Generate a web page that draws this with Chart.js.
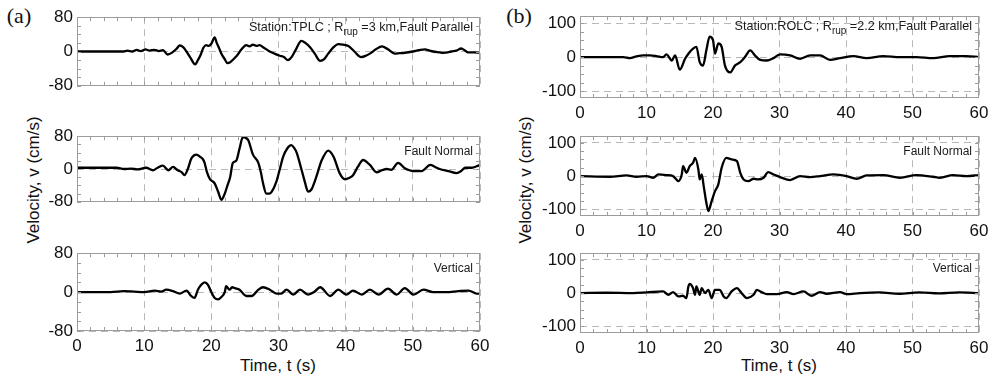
<!DOCTYPE html>
<html><head><meta charset="utf-8">
<script src="https://cdn.jsdelivr.net/npm/chart.js@4.4.0/dist/chart.umd.min.js"></script>
<style>
html,body{margin:0;padding:0;background:#fff;}
body{width:1000px;height:381px;overflow:hidden;position:relative;font-family:"Liberation Sans",Arial,sans-serif;color:#111;}
canvas{position:absolute;}
.lbl{position:absolute;white-space:nowrap;line-height:1;}
.panel{font-family:"Liberation Serif","Times New Roman",serif;font-size:22px;}
.ax{font-size:17px;}
.rot{transform:translate(-50%,-50%) rotate(-90deg);}
.ctr{transform:translate(-50%,-50%);}
</style></head><body>
<div class="lbl panel ctr" style="left:19px;top:16px;">(a)</div>
<div class="lbl panel ctr" style="left:519px;top:16px;">(b)</div>
<div class="lbl ax rot" style="left:33px;top:180px;">Velocity, v (cm/s)</div>
<div class="lbl ax rot" style="left:525px;top:180px;">Velocity, v (cm/s)</div>
<div class="lbl ax ctr" style="left:278px;top:365px;">Time, t (s)</div>
<div class="lbl ax ctr" style="left:779px;top:365px;">Time, t (s)</div>
<script>
// ---------- axis ticks ----------
const xTicks = [0, 10, 20, 30, 40, 50, 60];
const xMinorStep = 2;
const yRangeA = [-80, 80];
const yGridA = [-80, -40, 0, 40, 80];
const yLabelsA = [-80, 0, 80];
const yMinorA = 20;
const yRangeB = [-120, 120];
const yGridB = [-100, -50, 0, 50, 100];
const yLabelsB = [-100, 0, 100];
const yMinorB = 25;

// ---------- (a) Station TPLC ----------
const tA_FP = [0,6.9,7.5,8.2,8.9,9.5,10.2,10.8,11.5,12.2,12.8,13.5,14.2,14.8,15.3,15.8,16.3,16.9,17.6,18.0,18.4,18.8,19.2,19.6,20.0,20.5,20.8,21.1,21.5,22.0,22.4,22.8,23.3,23.8,24.5,25.2,25.7,26.2,26.7,27.2,27.7,28.2,28.7,29.4,30.2,30.8,31.4,32.0,32.6,33.4,34.0,34.7,35.4,36.2,36.8,37.4,38.2,38.9,39.6,40.4,41.3,42.3,43.0,43.6,44.5,45.4,46.3,47.3,48.0,48.8,50.0,50.9,51.8,52.5,53.0,54.0,54.5,55.2,55.7,56.5,57.2,57.8,58.2,59.0,60];
const vA_FP = [0,0,2,0,4,1,5,2,4,1,3,-7,-2,6,14,10,0,-15,-30,-20,-8,8,15,13,18,33,20,10,-5,-18,-27,-25,-18,-10,5,15,12,16,13,15,10,5,0,-5,-10,-13,-20,-12,5,25,20,10,-5,-22,-18,-5,10,17,16,13,0,-13,-10,-5,5,12,5,-5,-4,-3,0,3,5,2,0,-2,-3,-2,0,2,7,2,-2,-2,-3];

const tA_FN = [0,5.9,7,8,9,10.3,11.3,12.0,12.8,13.6,14.3,15.0,15.6,16.0,16.5,17.0,17.4,17.8,18.3,18.7,19.0,19.3,19.8,20.2,20.5,21.0,21.5,22.0,22.4,22.8,23.2,23.7,24.2,24.7,25.1,25.5,26.2,27.0,27.4,27.7,28.2,28.6,29.0,29.7,30.2,30.7,31.3,31.9,32.3,32.7,33.4,33.9,34.4,34.9,35.4,35.9,36.4,37.4,38.2,39.1,39.9,40.5,41.1,41.8,42.6,43.6,44.6,45.4,46.1,46.8,47.8,48.8,49.5,50.1,51.3,52.6,53.3,54.0,55.3,56.5,57.2,57.8,58.8,60];
const vA_FN = [3,3,0,1,-1,3,-3,3,8,-3,5,-3,-8,-15,0,25,33,35,30,25,15,-5,-25,-30,-35,-55,-75,-60,-40,-20,15,20,50,78,76,70,35,15,-10,-35,-60,-60,-55,-30,0,30,50,58,52,40,0,-30,-55,-50,-30,-5,20,45,30,-10,-25,-22,-15,5,22,10,-8,-3,0,-2,15,2,-3,-5,-5,10,5,0,-5,-10,-5,3,3,10];

const tA_V = [0,5,7,8.5,10,11.6,12.5,13.3,14.3,15.3,16.3,17.0,17.5,18.0,18.5,19.0,19.5,20.0,20.5,21.0,21.5,22.0,22.2,22.7,23.1,23.5,24.2,25.2,26.0,27.0,27.7,28.7,29.7,30.4,31.2,32.2,33.2,34.4,35.3,36.2,37.7,38.9,40.1,41.1,42.4,43.6,44.9,46.3,47.6,48.8,50.1,51.6,53,55,56.8,58.3,59.5,60];
const vA_V = [0,0,2,1,0,3,1,5,2,-3,3,-8,-12,5,15,20,15,0,-12,-15,-10,0,12,5,10,8,5,-8,-8,5,10,5,-3,-3,5,-5,5,-5,0,10,-8,5,-5,3,-5,5,-5,7,-5,8,-5,5,0,0,2,3,-3,-3];

// ---------- (b) Station ROLC ----------
const tB_FP = [0,6.5,7.5,8.5,9.5,10.5,11.5,12.5,13.0,13.8,14.3,15.0,15.8,16.3,17.0,17.5,18.0,18.5,19.0,19.5,20.0,20.3,20.8,21.3,21.8,22.6,23.3,24.1,24.8,25.6,26.3,27.1,28.1,29.1,30.1,31.6,33.1,34.6,36.1,37.6,39.1,41.1,43.1,45.6,48.1,50.6,53.1,55.6,58.1,60];
const vB_FP = [0,0,-3,2,5,5,3,0,8,-10,5,-37,-5,10,25,30,-15,-25,20,60,50,10,40,30,-25,-45,-25,-15,0,20,5,-8,-10,-3,8,5,-5,5,5,-8,-3,3,-3,3,0,0,-3,3,3,0];

const tB_FN = [0,4.5,7,8.5,10,11,11.8,13,14,14.8,15.3,15.5,16.0,16.5,17.0,17.3,17.8,18.0,18.3,18.6,19.0,19.3,19.8,20.3,20.8,21.3,22.0,22.8,23.6,24.1,24.6,25.3,26.1,26.8,27.6,28.3,29.1,30.1,31.6,33.1,34.6,36.1,38.1,40.1,41.6,43.1,45.6,48.1,50.6,53.1,54.1,56.1,58.1,60];
const vB_FN = [0,-2,2,-2,0,-5,5,3,0,-15,5,30,10,30,40,55,20,-10,5,-30,-80,-105,-75,-45,-25,25,55,50,45,10,-10,-15,-8,-10,-5,12,5,-3,-12,0,-3,0,5,0,-8,2,3,-5,3,-2,-5,3,0,3];

const tB_V = [0,4,8,10,12.5,13.3,14,14.8,15.5,16.0,16.3,16.5,17.0,17.3,17.5,18.0,18.3,18.8,19.3,19.8,20.3,21.0,21.6,22.0,22.8,23.6,24.3,25.1,26.1,26.6,27.3,28.1,29.6,31.1,32.1,33.6,34.8,36.1,37.1,39.1,40.1,42.1,45,48,51,54,57,60];
const vB_V = [0,1,0,2,5,-5,3,-10,-8,-15,20,28,15,-5,20,-5,15,0,10,-15,10,10,-10,-15,5,15,0,-15,-5,10,3,-3,-3,3,-3,5,-8,3,-2,3,-3,0,2,-2,2,-1,2,0];

// ---------- annotations ----------
const notesA = [["Station:TPLC ; R", "rup", " =3 km,Fault Parallel"], ["Fault Normal"], ["Vertical"]];
const notesB = [["Station:ROLC ; R", "rup", " =2.2 km,Fault Parallel"], ["Fault Normal"], ["Vertical"]];

// ---------- drawing ----------
const FONT = '"Liberation Sans", Arial, sans-serif';
const YW = 55, PT = 12, PR = 16;

const framePlugin = {
  id: 'frame',
  afterDatasetsDraw(chart, args, o) {
    const {ctx, chartArea: a} = chart;
    const x = chart.scales.x, y = chart.scales.y;
    ctx.save();
    ctx.strokeStyle = '#9c9c9c';
    ctx.lineWidth = 1;
    ctx.beginPath();
    for (let t = x.min + o.xMinor; t < x.max; t += o.xMinor) {
      const px = Math.round(x.getPixelForValue(t)) + 0.5;
      ctx.moveTo(px, a.top); ctx.lineTo(px, a.top + 4);
      ctx.moveTo(px, a.bottom); ctx.lineTo(px, a.bottom - 4);
    }
    for (let v = Math.ceil(y.min / o.yMinor) * o.yMinor; v <= y.max; v += o.yMinor) {
      const py = Math.round(y.getPixelForValue(v)) + 0.5;
      ctx.moveTo(a.left, py); ctx.lineTo(a.left + 4, py);
      ctx.moveTo(a.right, py); ctx.lineTo(a.right - 4, py);
    }
    ctx.stroke();
    ctx.strokeRect(Math.round(a.left) + 0.5, Math.round(a.top) + 0.5, Math.round(a.right - a.left) - 1, Math.round(a.bottom - a.top) - 1);
    // annotation text, right aligned
    const parts = o.note;
    ctx.fillStyle = '#1a1a1a';
    ctx.textBaseline = 'middle';
    ctx.textAlign = 'left';
    const big = '12.6px ' + FONT, small = '10px ' + FONT;
    const yMid = a.top + (parts.length > 1 ? 10 : 15);
    ctx.font = big;
    const w0 = ctx.measureText(parts[0]).width;
    let w1 = 0, w2 = 0;
    if (parts.length > 1) {
      ctx.font = small; w1 = ctx.measureText(parts[1]).width;
      ctx.font = big; w2 = ctx.measureText(parts[2]).width;
    } else {
      ctx.font = '12px ' + FONT;
    }
    const w = parts.length > 1 ? w0 + w1 + w2 : ctx.measureText(parts[0]).width;
    let xx = a.right - 7 - w;
    if (parts.length > 1) {
      ctx.font = big; ctx.fillText(parts[0], xx, yMid); xx += w0;
      ctx.font = small; ctx.fillText(parts[1], xx, yMid + 5); xx += w1;
      ctx.font = big; ctx.fillText(parts[2], xx, yMid);
    } else {
      ctx.fillText(parts[0], xx, yMid);
    }
    ctx.restore();
  }
};

function makePlot(p) {
  const XH = p.showX ? 28 : 2;
  const cv = document.createElement('canvas');
  cv.width = YW + p.w + PR;
  cv.height = PT + p.h + XH;
  cv.style.left = (p.left - YW) + 'px';
  cv.style.top = (p.top - PT) + 'px';
  document.body.appendChild(cv);
  const pts = p.t.map((t, i) => ({x: t, y: p.v[i]}));
  new Chart(cv, {
    type: 'line',
    data: {datasets: [{data: pts, borderColor: '#000', borderWidth: 2.3, pointRadius: 0,
      cubicInterpolationMode: 'monotone', fill: false, borderJoinStyle: 'round', borderCapStyle: 'round'}]},
    options: {
      responsive: false, animation: false, events: [],
      layout: {padding: {top: PT, right: PR, left: 0, bottom: 0}},
      plugins: {legend: {display: false}, tooltip: {enabled: false},
        frame: {xMinor: xMinorStep, yMinor: p.yMinor, note: p.note}},
      scales: {
        x: {
          type: 'linear', min: 0, max: 60,
          afterBuildTicks: s => { s.ticks = xTicks.map(v => ({value: v})); },
          ticks: {display: p.showX, padding: 5, color: '#111', font: {family: FONT, size: 17}, maxRotation: 0, autoSkip: false},
          grid: {color: '#b8b8b8', lineWidth: 1, drawTicks: false},
          border: {display: false, dash: [7, 5]},
          afterFit: s => { s.height = XH; }
        },
        y: {
          type: 'linear', min: p.yr[0], max: p.yr[1],
          afterBuildTicks: s => { s.ticks = p.grid.map(v => ({value: v})); },
          ticks: {padding: 4, color: '#111', font: {family: FONT, size: 17},
            callback: v => (p.labels.includes(v) ? String(v) : '')},
          grid: {color: '#b8b8b8', lineWidth: 1, drawTicks: false},
          border: {display: false, dash: [7, 5]},
          afterFit: s => { s.width = YW; }
        }
      }
    },
    plugins: [framePlugin]
  });
}

const A = {left: 77, w: 403, yr: yRangeA, grid: yGridA, labels: yLabelsA, yMinor: yMinorA};
const B = {left: 580, w: 399, yr: yRangeB, grid: yGridB, labels: yLabelsB, yMinor: yMinorB};

makePlot(Object.assign({}, A, {top: 15, h: 83, t: tA_FP, v: vA_FP, note: notesA[0], showX: false}));
makePlot(Object.assign({}, A, {top: 134, h: 80, t: tA_FN, v: vA_FN, note: notesA[1], showX: false}));
makePlot(Object.assign({}, A, {top: 251, h: 80, t: tA_V, v: vA_V, note: notesA[2], showX: true}));
makePlot(Object.assign({}, B, {top: 14, h: 84, t: tB_FP, v: vB_FP, note: notesB[0], showX: true}));
makePlot(Object.assign({}, B, {top: 134, h: 82, t: tB_FN, v: vB_FN, note: notesB[1], showX: true}));
makePlot(Object.assign({}, B, {top: 251, h: 82, t: tB_V, v: vB_V, note: notesB[2], showX: true}));
</script>
</body></html>
